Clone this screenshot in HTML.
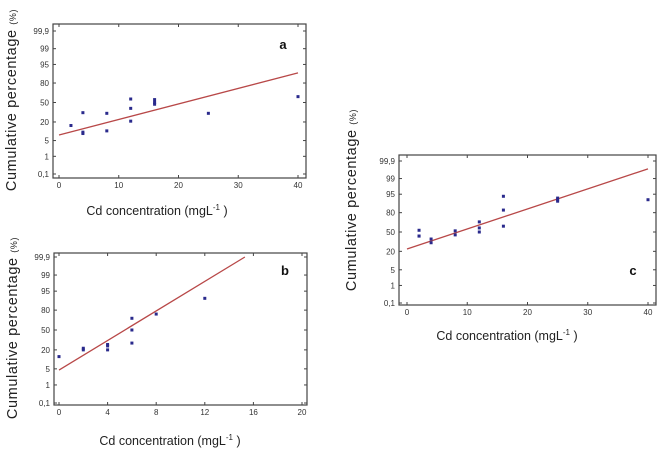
<!DOCTYPE html>
<html><head><meta charset="utf-8"><style>
html,body{margin:0;padding:0;background:#fff;width:665px;height:456px;overflow:hidden}
svg{display:block;font-family:"Liberation Sans",sans-serif}
</style></head><body>
<svg id="fig" width="665" height="456" viewBox="0 0 665 456"></svg>
<script>
// Probability-axis ticks (%)
const probTicks = [0.1, 1, 5, 20, 50, 80, 95, 99, 99.9];
const probTickLabels = ["0,1","1","5","20","50","80","95","99","99,9"];

// Chart a
const aX = [2, 4, 4, 4, 8, 8, 12, 12, 12, 16, 16, 16, 25, 40];
const aY = [16, 33, 9, 10, 32, 11, 56, 40, 21, 55, 50, 47, 32, 60];
const aXTicks = [0, 10, 20, 30, 40];
const aFit = [8, 90];          // fitted % at xFit ends
const aFitX = [0, 40];

// Chart b
const bX = [0, 2, 2, 4, 4, 4, 6, 6, 6, 8, 12];
const bY = [13, 22, 20, 27, 20, 25, 69, 50, 29, 75, 91];
const bXTicks = [0, 4, 8, 12, 16, 20];
const bFit = [4.5, 99.9];
const bFitX = [0, 15.3];

// Chart c
const cX = [2, 2, 2, 4, 4, 8, 8, 12, 12, 12, 16, 16, 16, 25, 25, 25, 40];
const cY = [53, 43, 43, 38, 32, 52, 45, 67, 57, 50, 94, 83, 60, 93, 92, 91, 92];
const cXTicks = [0, 10, 20, 30, 40];
const cFit = [23, 99.7];
const cFitX = [0, 40];

const NS = "http://www.w3.org/2000/svg";
const svg = document.getElementById("fig");
function mk(tag, attrs, parent, text) {
  const e = document.createElementNS(NS, tag);
  for (const k in attrs) e.setAttribute(k, attrs[k]);
  if (text !== undefined) e.textContent = text;
  (parent || svg).appendChild(e);
  return e;
}
// inverse normal CDF (Acklam)
function probit(p) {
  const a=[-39.69683028665376,220.9460984245205,-275.9285104469687,138.3577518672690,-30.66479806614716,2.506628277459239];
  const b=[-54.47609879822406,161.5858368580409,-155.6989798598866,66.80131188771972,-13.28068155288572];
  const c=[-0.007784894002430293,-0.3223964580411365,-2.400758277161838,-2.549732539343734,4.374664141464968,2.938163982698783];
  const d=[0.007784695709041462,0.3224671290700398,2.445134137142996,3.754408661907416];
  const pl=0.02425;
  if (p<pl){const q=Math.sqrt(-2*Math.log(p));return (((((c[0]*q+c[1])*q+c[2])*q+c[3])*q+c[4])*q+c[5])/((((d[0]*q+d[1])*q+d[2])*q+d[3])*q+1);}
  if (p>1-pl){const q=Math.sqrt(-2*Math.log(1-p));return -(((((c[0]*q+c[1])*q+c[2])*q+c[3])*q+c[4])*q+c[5])/((((d[0]*q+d[1])*q+d[2])*q+d[3])*q+1);}
  const q=p-0.5,r=q*q;
  return (((((a[0]*r+a[1])*r+a[2])*r+a[3])*r+a[4])*r+a[5])*q/(((((b[0]*r+b[1])*r+b[2])*r+b[3])*r+b[4])*r+1);
}

function chart(cfg) {
  const g = mk("g", {});
  
  
  const zTop = probit(0.999), zBot = probit(0.001);
  const sy = pct => cfg.y999 + (zTop - probit(pct/100)) / (zTop - zBot) * (cfg.y001 - cfg.y999);
  const sx = v => cfg.x0 + (v - cfg.xmin) / (cfg.xmax - cfg.xmin) * (cfg.x1 - cfg.x0);

  const frame = mk("rect", {x:cfg.L, y:cfg.T, width:cfg.R-cfg.L, height:cfg.B-cfg.T, fill:"none", stroke:"#444", "stroke-width":1.2}, g);
  
  

  probTicks.forEach((p, i) => {
    const y = sy(p);
    mk("line", {x1:cfg.L, x2:cfg.L+3, y1:y, y2:y, stroke:"#444"}, g);
    mk("line", {x1:cfg.R-3, x2:cfg.R, y1:y, y2:y, stroke:"#444"}, g);
    const t = mk("text", {x:cfg.L-4, y:y+3, "font-size":8, "text-anchor":"end", fill:"#333"}, g, probTickLabels[i]);
    
    
  });
  cfg.xticks.forEach(v => {
    const x = sx(v);
    mk("line", {x1:x, x2:x, y1:cfg.B, y2:cfg.B-3, stroke:"#444"}, g);
    mk("line", {x1:x, x2:x, y1:cfg.T, y2:cfg.T+3, stroke:"#444"}, g);
    const t = mk("text", {x:x, y:cfg.B+10, "font-size":8, "text-anchor":"middle", fill:"#333"}, g, String(v));
    
    
  });

  const line = mk("line", {x1:sx(cfg.fitX[0]), y1:sy(cfg.fit[0]), x2:sx(cfg.fitX[1]), y2:sy(cfg.fit[1]), stroke:"#b84848", "stroke-width":1.3}, g);
  
  

  cfg.xs.forEach((v, i) => {
    const r = mk("rect", {x:sx(v)-1.5, y:sy(cfg.ys[i])-1.5, width:3, height:3, fill:"#2a2a8c"}, g);
    
    
  });

  const lab = mk("text", {x:cfg.labX, y:cfg.labY, "font-size":13, "font-weight":"bold", "text-anchor":"middle", fill:"#111"}, g, cfg.id);
  
  

  const xt = mk("text", {x:cfg.xtX, y:cfg.xtY, "font-size":12.5, "text-anchor":"middle", fill:"#222"}, g);
  
  
  xt.innerHTML = 'Cd concentration (mgL<tspan font-size="8" dy="-5">-1</tspan><tspan dy="5"> )</tspan>';

  const yt = mk("text", {transform:`translate(${cfg.ytX},${cfg.ytY}) rotate(-90)`, "font-size":14.5, "text-anchor":"middle", fill:"#222", "letter-spacing":"0.6"}, g);
  
  
  yt.innerHTML = 'Cumulative  percentage <tspan font-size="9">(%)</tspan>';
}

chart({id:"a", L:53, T:24, R:306, B:178, y999:31, y001:174, x0:59, x1:298, xmin:0, xmax:40,
  xticks:aXTicks, xs:aX, ys:aY, fit:aFit, fitX:aFitX, labX:283, labY:49,
  xtX:157, xtY:215, ytX:16, ytY:100});
chart({id:"b", L:54, T:253, R:307, B:405, y999:257, y001:403, x0:59, x1:302, xmin:0, xmax:20,
  xticks:bXTicks, xs:bX, ys:bY, fit:bFit, fitX:bFitX, labX:285, labY:275,
  xtX:170, xtY:445, ytX:17, ytY:328});
chart({id:"c", L:399, T:155, R:656, B:305, y999:161, y001:303, x0:407, x1:648, xmin:0, xmax:40,
  xticks:cXTicks, xs:cX, ys:cY, fit:cFit, fitX:cFitX, labX:633, labY:275,
  xtX:507, xtY:340, ytX:356, ytY:200});
</script>
</body></html>
